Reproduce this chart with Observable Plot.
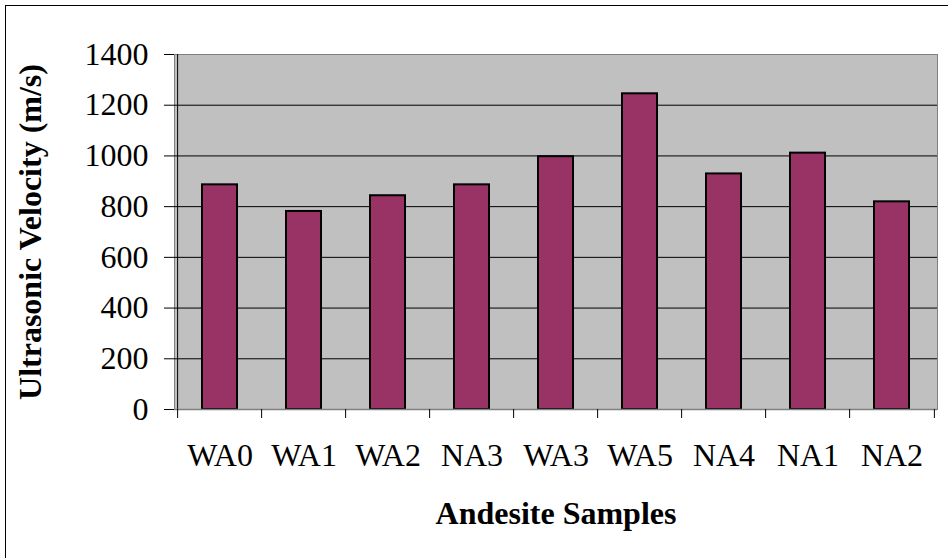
<!DOCTYPE html>
<html>
<head>
<meta charset="utf-8">
<script src="https://cdn.jsdelivr.net/npm/d3@7"></script>
<script src="https://cdn.jsdelivr.net/npm/@observablehq/plot@0.6"></script>
<style>
  html, body { margin: 0; padding: 0; background: #fff; overflow: hidden; }
  #wrap { position: relative; width: 948px; height: 558px; }
  #border { position: absolute; left: 5px; top: 5px; width: 960px; height: 570px;
            border-left: 1px solid #000; border-top: 1px solid #000; pointer-events: none; }
</style>
</head>
<body>
<div id="wrap"><div id="border"></div></div>
<script>
const samples = ["WA0", "WA1", "WA2", "NA3", "WA3", "WA5", "NA4", "NA1", "NA2"];
const velocities = [886, 781, 843, 886, 997, 1245, 929, 1011, 819];
const yTicks = [0, 200, 400, 600, 800, 1000, 1200, 1400];
const gridTicks = [200, 400, 600, 800, 1000, 1200];
const yTitle = "Ultrasonic Velocity (m/s)";
const xTitle = "Andesite Samples";

const data = samples.map((s, i) => ({sample: s, v: velocities[i]}));

const W = 948, H = 558;
const mL = 174, mR = 11, mT = 54, mB = 149;
const step = (W - mL - mR) / samples.length;
const FS = 32;

const chart = Plot.plot({
  width: W,
  height: H,
  marginLeft: mL,
  marginRight: mR,
  marginTop: mT,
  marginBottom: mB,
  style: {fontFamily: "'Liberation Serif', 'Times New Roman', serif", fontSize: FS + "px", color: "#000", background: "transparent"},
  x: {domain: samples, paddingInner: 0.585, paddingOuter: 0.2925, label: null},
  y: {domain: [0, 1400], label: null},
  marks: [
    Plot.frame({fill: "#c0c0c0", stroke: "#808080"}),
    Plot.gridY(gridTicks, {stroke: "#000", strokeOpacity: 1, strokeWidth: 1}),
    Plot.barY(data, {x: "sample", y: "v", fill: "#993366", stroke: "#000", strokeWidth: 2}),
    // left axis line
    Plot.ruleX([samples[0]], {x: d => d, y1: 0, y2: 1400, dx: -step / 2, stroke: "#000"}),
    // bottom axis line
    Plot.ruleY([0], {stroke: "#808080", strokeWidth: 1.5}),
    // category boundary ticks
    Plot.ruleX(samples, {x: d => d, y1: 0, y2: 0, insetBottom: -9, dx: -step / 2, stroke: "#000"}),
    Plot.ruleX([samples[samples.length - 1]], {x: d => d, y1: 0, y2: 0, insetBottom: -9, dx: step / 2, stroke: "#000"}),
    Plot.axisY(yTicks, {tickSize: 10, tickPadding: 16, stroke: "#000", label: null, fontSize: FS, tickFormat: d => String(d)}),
    Plot.axisX({tickSize: 0, tickPadding: 34, label: null, fontSize: FS}),
    Plot.text([yTitle], {frameAnchor: "left", rotate: -90, dx: -144, textAnchor: "middle", lineAnchor: "middle", fontWeight: "bold", fontSize: FS}),
    Plot.text([xTitle], {frameAnchor: "bottom", dy: 104, textAnchor: "middle", lineAnchor: "middle", fontWeight: "bold", fontSize: FS})
  ]
});
document.getElementById("wrap").insertBefore(chart, document.getElementById("border"));
</script>
</body>
</html>
